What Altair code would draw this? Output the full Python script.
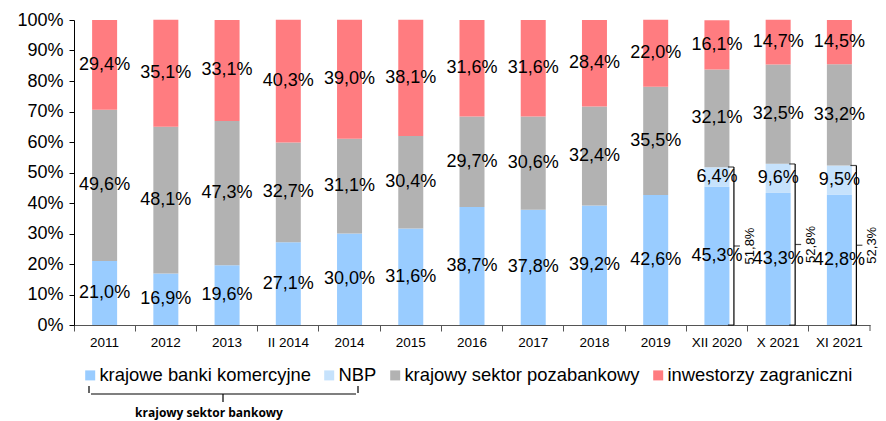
import altair as alt
import pandas as pd

categories = ["2011", "2012", "2013", "II 2014", "2014", "2015", "2016", "2017",
              "2018", "2019", "XII 2020", "X 2021", "XI 2021"]
banki = [21.0, 16.9, 19.6, 27.1, 30.0, 31.6, 38.7, 37.8, 39.2, 42.6, 45.3, 43.3, 42.8]
nbp = [0, 0, 0, 0, 0, 0, 0, 0, 0, 0, 6.4, 9.6, 9.5]
pozabankowy = [49.6, 48.1, 47.3, 32.7, 31.1, 30.4, 29.7, 30.6, 32.4, 35.5, 32.1, 32.5, 33.2]
zagraniczni = [29.4, 35.1, 33.1, 40.3, 39.0, 38.1, 31.6, 31.6, 28.4, 22.0, 16.1, 14.7, 14.5]
series = ["krajowe banki komercyjne", "NBP", "krajowy sektor pozabankowy", "inwestorzy zagraniczni"]
colors = ["#99CCFF", "#C6E2FC", "#B2B2B2", "#FF7C80"]
brace_categories = ["XII 2020", "X 2021", "XI 2021"]
brace_totals = [51.8, 52.8, 52.3]
bank_sector_label = "krajowy sektor bankowy"

rows = []
for i, c in enumerate(categories):
    for k, (s, vals) in enumerate(zip(series, [banki, nbp, pozabankowy, zagraniczni])):
        rows.append({"cat": c, "series": s, "value": vals[i], "idx": k})
df = pd.DataFrame(rows)
dfb = pd.DataFrame({"cat": brace_categories, "total": brace_totals})
one = pd.DataFrame({"a": [0]})

FONT = "Liberation Sans"
W, H = 796, 305

xaxis = alt.Axis(title=None, labelAngle=0, labelFont=FONT, labelFontSize=13.5,
                 labelColor="black", bandPosition=0,
                 tickSize=6, tickColor="#555", domainColor="#555",
                 labelPadding=4, labelOverlap=False, labelLimit=0)
xscale = alt.Scale(paddingInner=0, paddingOuter=0)
yaxis = alt.Axis(title=None, values=list(range(0, 101, 10)),
                 labelExpr="datum.value + '%'", labelFont=FONT, labelFontSize=18,
                 labelColor="black", tickSize=5, tickColor="black",
                 domainColor="black", grid=False, labelPadding=6, labelOverlap=False)
yscale = alt.Scale(domain=[0, 100], nice=False)


def X():
    return alt.X("cat:N", sort=categories, scale=xscale, axis=xaxis)


def Y(field, **kw):
    return alt.Y(field, scale=yscale, axis=yaxis, **kw)


bars = alt.Chart(df).mark_bar(size=25).encode(
    x=X(),
    y=Y("value:Q", stack="zero"),
    color=alt.Color("series:N", scale=alt.Scale(domain=series, range=colors),
                    legend=alt.Legend(title=None, orient="none", legendX=7, legendY=346,
                                      direction="horizontal", symbolType="square",
                                      symbolSize=100, symbolStrokeWidth=0,
                                      labelFont=FONT, labelFontSize=18.4, labelColor="black",
                                      columnPadding=9, labelOffset=0, labelLimit=0)),
    order=alt.Order("idx:Q"),
)

labels = alt.Chart(df).transform_filter("datum.value > 0").transform_stack(
    stack="value", groupby=["cat"], as_=["y0", "y1"],
    sort=[alt.SortField("idx", order="ascending")]
).transform_calculate(
    mid="(datum.y0 + datum.y1) / 2",
    lbl="replace(format(datum.value, '.1f'), '.', ',') + '%'"
).mark_text(font=FONT, fontSize=18, color="black", baseline="middle").encode(
    x=X(),
    y=Y("mid:Q"),
    text="lbl:N",
)

bbase = alt.Chart(dfb).transform_calculate(zero="0", half="datum.total / 2",
                                           lbl="replace(format(datum.total, '.1f'), '.', ',') + '%'")
bvert = bbase.mark_rule(xOffset=17, color="black", strokeWidth=1.2).encode(
    x=X(), y=Y("zero:Q"), y2="total:Q")
btop = bbase.mark_tick(xOffset=14, size=6, thickness=1.2, color="black").encode(
    x=X(), y=Y("total:Q"))
bbot = bbase.mark_tick(xOffset=14, size=6, thickness=1.2, color="black").encode(
    x=X(), y=Y("zero:Q"))
bmid = bbase.mark_tick(xOffset=20, size=6, thickness=1.2, color="black").encode(
    x=X(), y=Y("half:Q"))
btext = bbase.mark_text(angle=270, xOffset=33, font=FONT, fontSize=13, color="black",
                        baseline="middle").encode(
    x=X(), y=Y("half:Q"), text="lbl:N")

endtick = alt.Chart(one).mark_rule(color="#555").encode(
    x=alt.value(W), y=alt.value(H), y2=alt.value(H + 6))

# brace under legend
lb_h = alt.Chart(one).mark_rule(color="black", strokeWidth=1.2).encode(
    x=alt.value(17), x2=alt.value(282), y=alt.value(374))
lb_l = alt.Chart(one).mark_rule(color="black", strokeWidth=1.2).encode(
    x=alt.value(15), y=alt.value(366), y2=alt.value(373))
lb_r = alt.Chart(one).mark_rule(color="black", strokeWidth=1.2).encode(
    x=alt.value(284), y=alt.value(366), y2=alt.value(373))
lb_m = alt.Chart(one).mark_rule(color="black", strokeWidth=1.2).encode(
    x=alt.value(149), y=alt.value(374), y2=alt.value(382))
lb_t = alt.Chart(one).mark_text(font="Open Sans", fontWeight="bold", fontSize=12,
                                color="black", baseline="middle").encode(
    x=alt.value(135), y=alt.value(393), text=alt.value(bank_sector_label))

chart = alt.layer(bars, labels, bvert, btop, bbot, bmid, btext, endtick,
                  lb_h, lb_l, lb_r, lb_m, lb_t).properties(
    width=W, height=H,
    autosize=alt.AutoSizeParams(type="none"),
    padding={"left": 66, "top": 12, "right": 8, "bottom": 96},
).configure_view(stroke=None)

chart.save("out.html", embed_options={"renderer": "svg", "actions": False})
